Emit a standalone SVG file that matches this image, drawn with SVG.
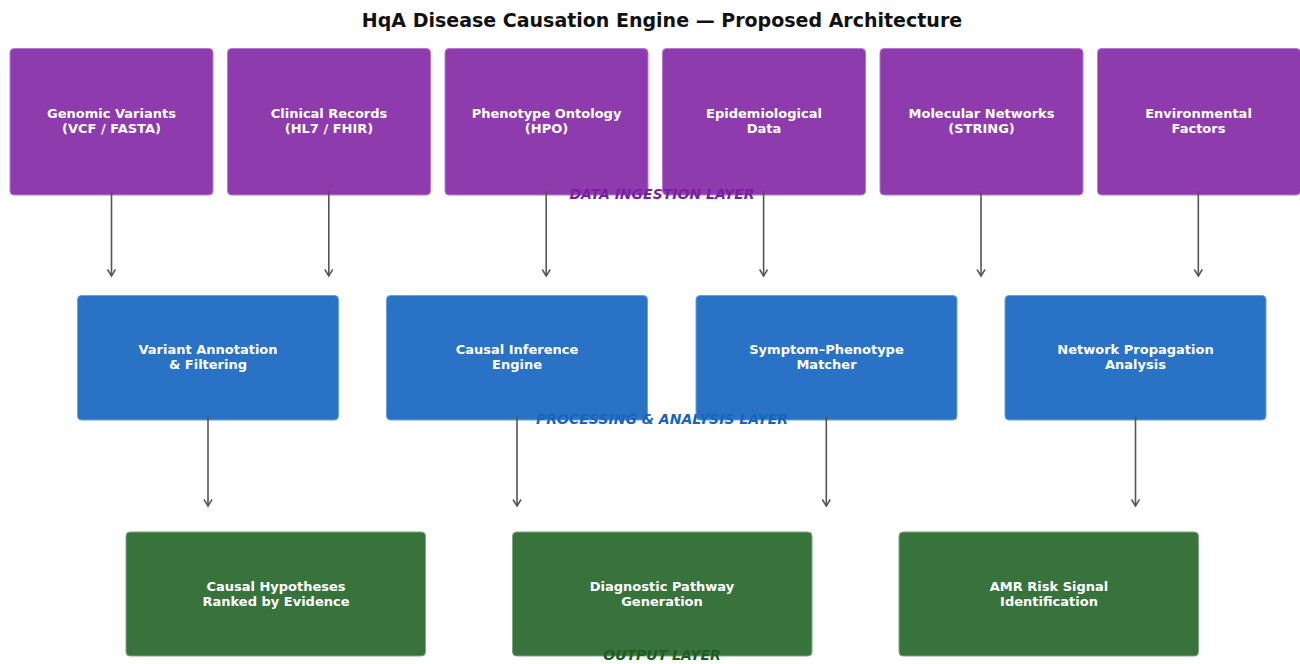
<svg xmlns="http://www.w3.org/2000/svg" width="1300" height="664" viewBox="0 0 1300 664">
<defs>
<marker id="arr" markerUnits="userSpaceOnUse" markerWidth="12" markerHeight="12" refX="7" refY="4.5" orient="auto">
<path d="M0.5,0.5 L7,4.5 L0.5,8.5" fill="none" stroke="#555" stroke-width="1.5"/>
</marker>
</defs>
<style>
.t{font-family:"DejaVu Sans",sans-serif;font-weight:bold;font-size:13px;fill:#fff;text-anchor:middle}
.ing{fill:#8e3bad;stroke:#b57ad0;stroke-width:1}
.proc{fill:#2a72c5;stroke:#6aa0dc;stroke-width:1}
.out{fill:#39733c;stroke:#7fa682;stroke-width:1}
.c{stroke:#555;stroke-width:1.6;fill:none;marker-end:url(#arr)}
.lay{font-family:"DejaVu Sans",sans-serif;font-weight:bold;font-style:italic;font-size:14px;text-anchor:middle}
</style>
<rect width="1300" height="664" fill="#fff"/>
<text x="662" y="27" style="font-family:'DejaVu Sans',sans-serif;font-weight:bold;font-size:19px;fill:#111;text-anchor:middle">HqA Disease Causation Engine — Proposed Architecture</text>

<g id="n1"><rect class="ing" x="10" y="48.5" width="203" height="146.5" rx="4"/><text class="t" x="111.5" y="118">Genomic Variants</text><text class="t" x="111.5" y="133">(VCF / FASTA)</text></g>
<g id="n2"><rect class="ing" x="227.5" y="48.5" width="203" height="146.5" rx="4"/><text class="t" x="329" y="118">Clinical Records</text><text class="t" x="329" y="133">(HL7 / FHIR)</text></g>
<g id="n3"><rect class="ing" x="445" y="48.5" width="203" height="146.5" rx="4"/><text class="t" x="546.5" y="118">Phenotype Ontology</text><text class="t" x="546.5" y="133">(HPO)</text></g>
<g id="n4"><rect class="ing" x="662.5" y="48.5" width="203" height="146.5" rx="4"/><text class="t" x="764" y="118">Epidemiological</text><text class="t" x="764" y="133">Data</text></g>
<g id="n5"><rect class="ing" x="880" y="48.5" width="203" height="146.5" rx="4"/><text class="t" x="981.5" y="118">Molecular Networks</text><text class="t" x="981.5" y="133">(STRING)</text></g>
<g id="n6"><rect class="ing" x="1097.5" y="48.5" width="203" height="146.5" rx="4"/><text class="t" x="1198.5" y="118">Environmental</text><text class="t" x="1198.5" y="133">Factors</text></g>

<g id="p1"><rect class="proc" x="77.5" y="295.5" width="261" height="124.5" rx="4"/><text class="t" x="208" y="354">Variant Annotation</text><text class="t" x="208" y="369">&amp; Filtering</text></g>
<g id="p2"><rect class="proc" x="386.5" y="295.5" width="261" height="124.5" rx="4"/><text class="t" x="517" y="354">Causal Inference</text><text class="t" x="517" y="369">Engine</text></g>
<g id="p3"><rect class="proc" x="696" y="295.5" width="261" height="124.5" rx="4"/><text class="t" x="826.5" y="354">Symptom–Phenotype</text><text class="t" x="826.5" y="369">Matcher</text></g>
<g id="p4"><rect class="proc" x="1005" y="295.5" width="261" height="124.5" rx="4"/><text class="t" x="1135.5" y="354">Network Propagation</text><text class="t" x="1135.5" y="369">Analysis</text></g>

<g id="o1"><rect class="out" x="126" y="532" width="299.5" height="124" rx="4"/><text class="t" x="276" y="590.5">Causal Hypotheses</text><text class="t" x="276" y="605.5">Ranked by Evidence</text></g>
<g id="o2"><rect class="out" x="512.5" y="532" width="299.5" height="124" rx="4"/><text class="t" x="662" y="590.5">Diagnostic Pathway</text><text class="t" x="662" y="605.5">Generation</text></g>
<g id="o3"><rect class="out" x="899" y="532" width="299.5" height="124" rx="4"/><text class="t" x="1049" y="590.5">AMR Risk Signal</text><text class="t" x="1049" y="605.5">Identification</text></g>

<g id="connectors">
<line class="c" x1="111.5" y1="191" x2="111.5" y2="276"/>
<line class="c" x1="328.8" y1="191" x2="328.8" y2="276"/>
<line class="c" x1="546.2" y1="191" x2="546.2" y2="276"/>
<line class="c" x1="763.6" y1="191" x2="763.6" y2="276"/>
<line class="c" x1="981" y1="191" x2="981" y2="276"/>
<line class="c" x1="1198.3" y1="191" x2="1198.3" y2="276"/>
<line class="c" x1="208" y1="416" x2="208" y2="506"/>
<line class="c" x1="517" y1="416" x2="517" y2="506"/>
<line class="c" x1="826.3" y1="416" x2="826.3" y2="506"/>
<line class="c" x1="1135.5" y1="416" x2="1135.5" y2="506"/>
</g>

<text class="lay" x="662" y="199" fill="#7b1fa2">DATA INGESTION LAYER</text>
<text class="lay" x="662" y="424" fill="#1565c0">PROCESSING &amp; ANALYSIS LAYER</text>
<text class="lay" x="662" y="660" fill="#1b5e20">OUTPUT LAYER</text>
</svg>
